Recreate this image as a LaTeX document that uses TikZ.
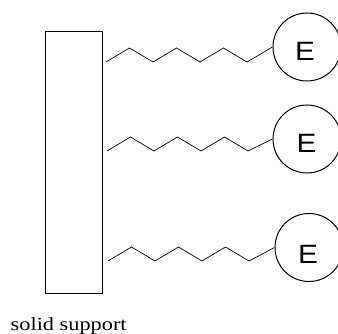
\documentclass[tikz,border=0pt]{standalone}
\usepackage{fontspec}
\setmainfont{Liberation Serif}
\newfontfamily\esans{Liberation Sans}
\begin{document}
\begin{tikzpicture}[x=1pt,y=-1pt,
  support/.style={draw, line width=1.1pt, inner sep=0pt, minimum width=57.3pt, minimum height=262.5pt},
  enzyme/.style={draw, circle, line width=1pt, inner sep=0pt, minimum size=68pt},
  elabel/.style={inner sep=0pt, font=\esans\fontsize{26.5}{30}\selectfont, xscale=1.12},
  linker/.style={line width=0.7pt, line join=miter},
  caption/.style={inner sep=0pt, anchor=base west, font=\fontsize{18.6}{22}\selectfont, xscale=1.2}]
\useasboundingbox (0,0) rectangle (338,334);
\node[support] (box) at (73.7,162.7) {};
\node[enzyme] (e1) at (307,47) {};
\node[enzyme] (e2) at (307,139) {};
\node[enzyme] (e3) at (309,247.5) {};
\node[elabel] (t1) at (305,51) {E};
\node[elabel] (t2) at (306.5,143) {E};
\node[elabel] (t3) at (308,254) {E};
\coordinate (s1) at (106,62);
\coordinate (s2) at (107,151);
\coordinate (s3) at (108,261);
\draw[linker] (s1) -- ++(23.5,-14) -- ++(23.5,14) -- ++(23.5,-14) -- ++(23.5,14) -- ++(23.5,-14) -- ++(23.5,14) -- (e1.west);
\draw[linker] (s2) -- ++(23.5,-14) -- ++(23.5,14) -- ++(23.5,-14) -- ++(23.5,14) -- ++(23.5,-14) -- ++(23.5,14) -- (e2.west);
\draw[linker] (s3) -- ++(23.5,-14) -- ++(23.5,14) -- ++(23.5,-14) -- ++(23.5,14) -- ++(23.5,-14) -- ++(23.5,14) -- (e3.west);
\node[caption] (cap) at (10.5,331) {solid support};
\end{tikzpicture}
\end{document}
